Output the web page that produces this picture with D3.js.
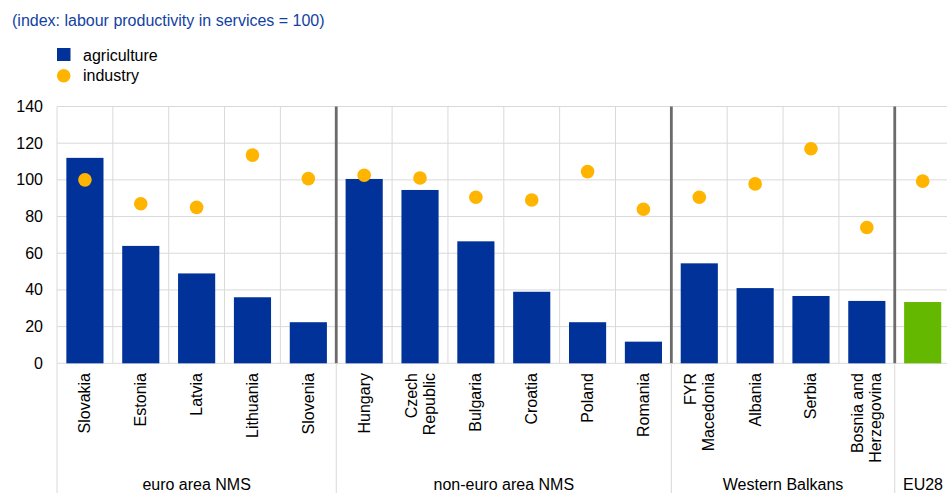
<!DOCTYPE html>
<html><head><meta charset="utf-8">
<script src="https://cdn.jsdelivr.net/npm/d3@7"></script>
<style>body{margin:0;background:#fff}svg{display:block;font-family:"Liberation Sans",Arial,sans-serif}</style>
</head><body>
<svg id="c" width="947" height="502"></svg>
<script>
const categories = ["Slovakia","Estonia","Latvia","Lithuania","Slovenia","Hungary","Czech\nRepublic","Bulgaria","Croatia","Poland","Romania","FYR\nMacedonia","Albania","Serbia","Bosnia and\nHerzegovina","EU28"];
const agriculture = [112,64,49,36,22.4,100.5,94.5,66.5,39,22.4,11.8,54.5,41,36.7,34,33.4];
const industry = [100,87,85,113.5,100.7,102.5,101,90.5,89,104.5,84,90.5,97.8,117,74,99.3];
const groups = [{name:"euro area NMS",start:0,end:4},{name:"non-euro area NMS",start:5,end:10},{name:"Western Balkans",start:11,end:14},{name:"EU28",start:15,end:15}];
const yTicks = [0,20,40,60,80,100,120,140];
const seriesNames = ["agriculture","industry"];
const title = "(index: labour productivity in services = 100)";

const blue="#003299", orange="#FFB400", green="#65B800", grid="#d9d9d9";
const FS=16;
const svg = d3.select("#c");
const L=57, R=950.6, T=106.5, B=363.3, Bot=493;
const x = d3.scaleBand().domain(categories).range([L,R]).padding(0);
const y = d3.scaleLinear().domain([0,140]).range([B,T]);
const bw = x.bandwidth()*0.665;

// title
svg.append("text").attr("x",12).attr("y",26).attr("fill","#1242a3").attr("font-size",FS).text(title);
// legend
svg.append("rect").attr("x",57).attr("y",48).attr("width",13.5).attr("height",13).attr("fill",blue);
svg.append("text").attr("x",83).attr("y",61).attr("font-size",FS).attr("fill","#000").text(seriesNames[0]);
svg.append("circle").attr("cx",63.7).attr("cy",75.7).attr("r",6.8).attr("fill",orange);
svg.append("text").attr("x",83).attr("y",81).attr("font-size",FS).attr("fill","#000").text(seriesNames[1]);

// horizontal grid
svg.append("g").selectAll("line").data(yTicks).join("line")
  .attr("x1",L).attr("x2",947).attr("y1",d=>y(d)).attr("y2",d=>y(d))
  .attr("stroke",grid).attr("stroke-width",1);
// y tick labels
svg.append("g").selectAll("text").data(yTicks).join("text")
  .attr("x",43).attr("y",d=>y(d)+5.5).attr("text-anchor","end").attr("font-size",FS).attr("fill","#000").text(d=>d);

// vertical grid between categories
const bounds = d3.range(categories.length+1).map(i=>L+i*x.step());
svg.append("g").selectAll("line").data(d3.range(categories.length+1)).join("line")
  .attr("x1",i=>bounds[i]).attr("x2",i=>bounds[i]).attr("y1",T).attr("y2",B)
  .attr("stroke",grid).attr("stroke-width",1);

// bars
svg.append("g").selectAll("rect").data(categories).join("rect")
  .attr("x",(d)=>x(d)+(x.bandwidth()-bw)/2).attr("width",bw)
  .attr("y",(d,i)=>y(agriculture[i])).attr("height",(d,i)=>y(0)-y(agriculture[i]))
  .attr("fill",(d)=>d==="EU28"?green:blue);

// group separators (dark) within plot
svg.append("g").selectAll("line").data(groups.slice(1)).join("line")
  .attr("x1",g=>bounds[g.start]).attr("x2",g=>bounds[g.start]).attr("y1",T).attr("y2",B)
  .attr("stroke","#6b6b6b").attr("stroke-width",2.8);
// group separators below axis (light)
svg.append("g").selectAll("line").data(groups).join("line")
  .attr("x1",g=>bounds[g.start]).attr("x2",g=>bounds[g.start]).attr("y1",B).attr("y2",Bot)
  .attr("stroke",grid).attr("stroke-width",1);

// dots
svg.append("g").selectAll("circle").data(categories).join("circle")
  .attr("cx",d=>x(d)+x.bandwidth()/2).attr("cy",(d,i)=>y(industry[i])).attr("r",6.8).attr("fill",orange);

// category labels (rotated)
const cl = svg.append("g").selectAll("g").data(categories.filter(c=>c!=="EU28")).join("g")
  .attr("transform",d=>`translate(${x(d)+x.bandwidth()/2},373) rotate(-90)`);
cl.each(function(d){
  const lines=d.split("\n"); const n=lines.length;
  d3.select(this).selectAll("text").data(lines).join("text")
    .attr("x",0).attr("y",(l,j)=>(j-(n-1)/2)*18+5.5)
    .attr("text-anchor","end").attr("font-size",FS).attr("fill","#000").text(l=>l);
});

// group labels
svg.append("g").selectAll("text").data(groups).join("text")
  .attr("x",g=>g.name==="EU28"?923:(bounds[g.start]+bounds[g.end+1])/2).attr("y",490)
  .attr("text-anchor","middle").attr("font-size",FS).attr("fill","#000").text(g=>g.name);
</script>
</body></html>
